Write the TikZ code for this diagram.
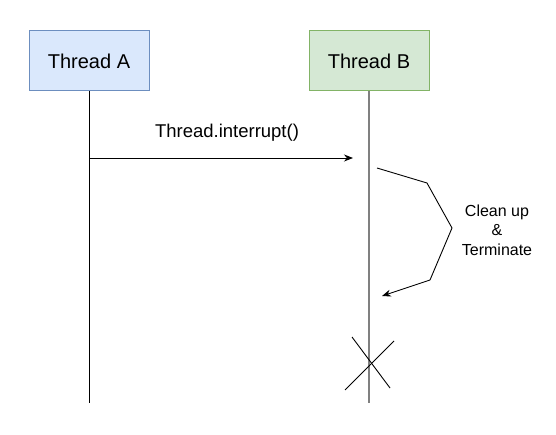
\documentclass[tikz,border=0pt]{standalone}
\usepackage{fontspec}
\setmainfont{Liberation Sans}
\usetikzlibrary{arrows.meta}
\begin{document}
\begin{tikzpicture}[x=1pt,y=-1pt,
  thread/.style={draw, line width=1pt, minimum width=120pt, minimum height=60pt, inner sep=0pt, font=\fontsize{20}{23}\selectfont},
  ln/.style={line width=0.9pt, draw=black},
  lbl/.style={font=\fontsize{18.5}{21}\selectfont, inner sep=0pt},
  note/.style={font=\fontsize{16}{19.5}\selectfont, align=center, inner sep=0pt}]
\useasboundingbox (0,0) rectangle (556,435);
\definecolor{bfill}{HTML}{DAE8FC}\definecolor{bdraw}{HTML}{6C8EBF}
\definecolor{gfill}{HTML}{D5E8D4}\definecolor{gdraw}{HTML}{82B366}
\node[thread, fill=bfill, draw=bdraw] (A) at (89,61) {Thread A};
\node[thread, fill=gfill, draw=gdraw] (B) at (369,61) {Thread B};
\coordinate (Aend) at (89,403);
\coordinate (Bend) at (369,403);
\draw[ln] (A.south) -- (Aend);
\draw[line width=1.4pt, draw=gray] (B.south) -- (Bend);
\coordinate (m1) at (89,158);
\coordinate (m2) at (353,158);
\draw[ln, -{Stealth[length=9pt,width=7pt]}] (m1) -- (m2);
\node[lbl] (msg) at (227,133) {Thread.interrupt()};
\coordinate (c0) at (377,168);
\coordinate (c1) at (427,183);
\coordinate (c2) at (452,228);
\coordinate (c3) at (430,280);
\coordinate (c4) at (382,296);
\draw[ln, -{Stealth[length=9pt,width=7pt]}] (c0) -- (c1) -- (c2) -- (c3) -- (c4);
\node[note] (clean) at (497,230) {Clean up\\\&\\Terminate};
\coordinate (x1) at (352,337);
\coordinate (x2) at (390,388);
\coordinate (x3) at (394,341);
\coordinate (x4) at (345,390);
\draw[ln] (x1) -- (x2);
\draw[ln] (x3) -- (x4);
\end{tikzpicture}
\end{document}
